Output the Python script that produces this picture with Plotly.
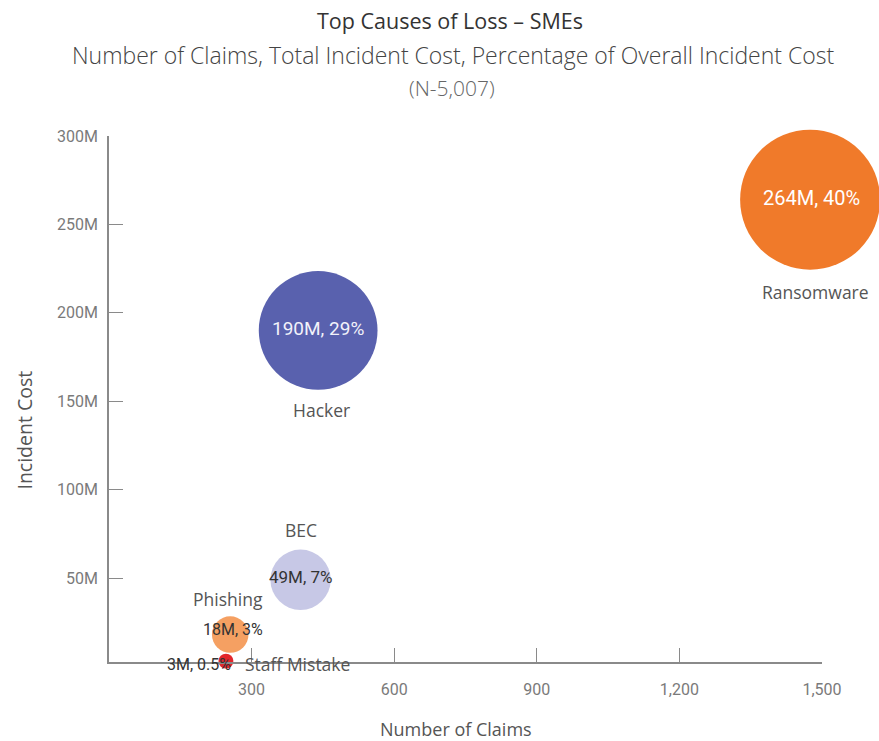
import plotly.graph_objects as go

# Top causes of loss for SMEs: claims count vs. total incident cost
causes = ["Ransomware", "Hacker", "BEC", "Phishing", "Staff Mistake"]
claims = [1475, 440, 403, 255, 246]
cost_m = [264, 190, 49, 18, 3]
cost_share = ["40%", "29%", "7%", "3%", "0.5%"]
colors = ["#F07A2A", "#5961AE", "#C7C8E6", "#F5A062", "#E2262B"]

x_ticks = [300, 600, 900, 1200, 1500]
x_tick_text = ["300", "600", "900", "1,200", "1,500"]
y_ticks = [50e6, 100e6, 150e6, 200e6, 250e6, 300e6]
y_tick_text = ["50M", "100M", "150M", "200M", "250M", "300M"]

cost = [c * 1e6 for c in cost_m]
value_text = [f"{c}M, {s}" for c, s in zip(cost_m, cost_share)]

NUM_FONT = "Roboto, sans-serif"
SANS = "Open Sans, Lato, sans-serif"

# bubble area proportional to incident cost
max_diam = 140
sizeref = 2.0 * max(cost_m) / max_diam ** 2

fig = go.Figure()
fig.add_trace(go.Scatter(
    x=claims, y=cost, mode="markers",
    marker=dict(size=cost_m, sizemode="area", sizeref=sizeref,
                color=colors, line=dict(width=0), opacity=1),
    cliponaxis=False, hoverinfo="skip", showlegend=False,
))

# value labels and category names placed around each bubble
value_style = {
    "Ransomware": dict(color="#FFFFFF", size=20, xshift=1, yshift=2, anchor="center"),
    "Hacker": dict(color="#F2F2FA", size=19, xshift=0, yshift=2, anchor="center"),
    "BEC": dict(color="#333333", size=17, xshift=0, yshift=3, anchor="center"),
    "Phishing": dict(color="#333333", size=16, xshift=3, yshift=5, anchor="center"),
    "Staff Mistake": dict(color="#333333", size=16, xshift=7, yshift=-3, anchor="right"),
}
name_style = {
    "Ransomware": dict(xshift=5, yshift=-92, anchor="center"),
    "Hacker": dict(xshift=3, yshift=-80, anchor="center"),
    "BEC": dict(xshift=0, yshift=50, anchor="center"),
    "Phishing": dict(xshift=-2, yshift=36, anchor="center"),
    "Staff Mistake": dict(xshift=17, yshift=-3, anchor="left"),
}

annotations = []
for name, xv, yv, txt in zip(causes, claims, cost, value_text):
    vs = value_style[name]
    annotations.append(dict(
        x=xv, y=yv, xref="x", yref="y", text=txt, showarrow=False,
        xanchor=vs["anchor"], yanchor="middle", xshift=vs["xshift"], yshift=vs["yshift"],
        font=dict(family=NUM_FONT, size=vs["size"], color=vs["color"]),
    ))
    ns = name_style[name]
    annotations.append(dict(
        x=xv, y=yv, xref="x", yref="y", text=name, showarrow=False,
        xanchor=ns["anchor"], yanchor="middle", xshift=ns["xshift"], yshift=ns["yshift"],
        font=dict(family=SANS, size=17.5, color="#555555"),
    ))

# titles
annotations += [
    dict(x=0.478, y=1, xref="paper", yref="paper", yshift=116, showarrow=False,
         text="Top Causes of Loss – SMEs", xanchor="center", yanchor="middle",
         font=dict(family=SANS, size=21.5, color="#333333")),
    dict(x=0.483, y=1, xref="paper", yref="paper", yshift=81, showarrow=False,
         text="Number of Claims, Total Incident Cost, Percentage of Overall Incident Cost",
         xanchor="center", yanchor="middle",
         font=dict(family=SANS, size=23, color="#444444", weight=300)),
    dict(x=0.481, y=1, xref="paper", yref="paper", yshift=48, showarrow=False,
         text="(N-5,007)", xanchor="center", yanchor="middle",
         font=dict(family=SANS, size=21, color="#666666", weight=300)),
    dict(x=0.487, y=0, xref="paper", yref="paper", yshift=-67, showarrow=False,
         text="Number of Claims", xanchor="center", yanchor="middle",
         font=dict(family=SANS, size=18, color="#555555")),
    dict(x=0, y=0.44, xref="paper", yref="paper", xshift=-84, showarrow=False,
         text="Incident Cost", textangle=-90, xanchor="center", yanchor="middle",
         font=dict(family=SANS, size=19.5, color="#555555")),
]

axis_color = "#8A8A8A"
tick_font = dict(family=NUM_FONT, size=16, color="#7A7A7A")
fig.update_layout(
    width=879, height=741,
    margin=dict(l=109, r=57, t=136, b=79, pad=0),
    plot_bgcolor="white", paper_bgcolor="white",
    annotations=annotations,
    xaxis=dict(range=[0, 1500], tickvals=x_ticks, ticktext=x_tick_text,
               showgrid=False, zeroline=False, showline=True, linecolor=axis_color,
               linewidth=1.5, ticks="inside", ticklen=14, tickwidth=1.2,
               tickcolor=axis_color, ticklabelstandoff=12, tickfont=tick_font),
    yaxis=dict(range=[2.5e6, 300e6], tickvals=y_ticks, ticktext=y_tick_text,
               showgrid=False, zeroline=False, showline=True, linecolor=axis_color,
               linewidth=1.5, ticks="inside", ticklen=14, tickwidth=1.2,
               tickcolor=axis_color, ticklabelstandoff=6, tickfont=tick_font),
)

fig.write_html("out.html")
